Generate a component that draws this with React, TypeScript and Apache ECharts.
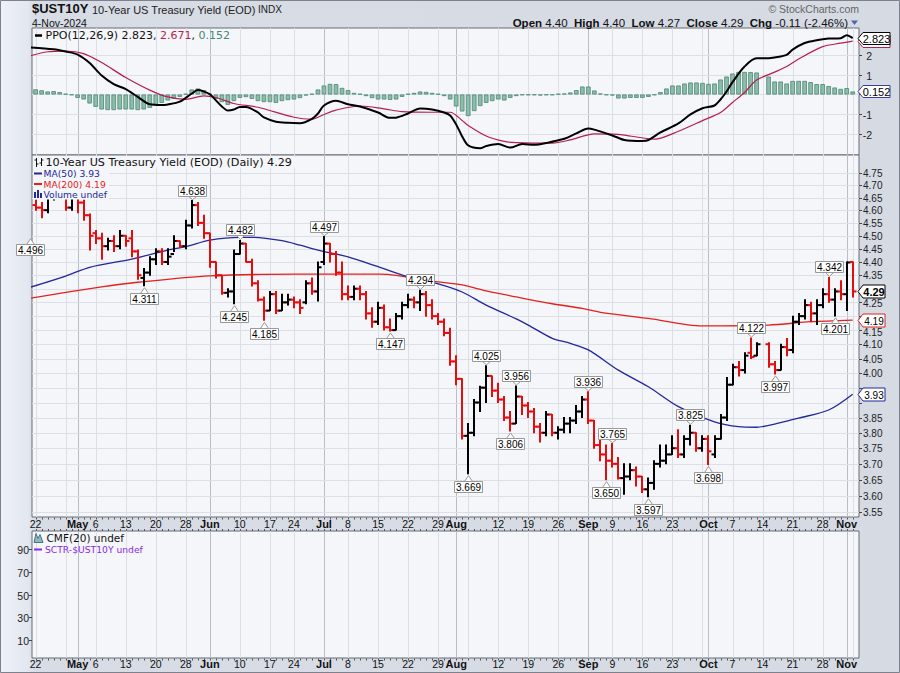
import React, { useEffect, useRef } from "react";
import * as echarts from "echarts";

// ---------------- DATA ----------------
const priorClose = 4.62; // Apr 19 close (prior bar)
const opens = [4.62,4.61,4.60,4.65,4.70,4.67,4.61,4.68,4.63,4.58,
 4.51,4.49,4.46,4.48,4.46,4.50,4.49,4.44,4.34,4.36,
 4.41,4.44,4.40,4.43,4.48,4.46,4.54,4.62,4.55,4.51,
 4.40,4.35,4.285,4.29,4.43,4.47,4.40,4.32,4.26,4.22,
 4.28,4.22,4.25,4.26,4.25,4.25,4.32,4.29,4.40,4.47,
 4.43,4.36,4.28,4.27,4.30,4.28,4.21,4.18,4.23,4.16,
 4.15,4.20,4.24,4.26,4.25,4.28,4.24,4.20,4.18,4.14,
 4.04,3.98,3.79,3.80,3.90,3.95,3.99,3.94,3.91,3.85,
 3.83,3.92,3.89,3.87,3.82,3.80,3.86,3.80,3.81,3.83,
 3.84,3.87,3.91,3.84,3.76,3.73,3.71,3.70,3.655,3.66,
 3.68,3.66,3.62,3.64,3.70,3.71,3.73,3.75,3.73,3.78,
 3.80,3.75,3.78,3.73,3.78,3.85,3.96,4.02,4.01,4.07,
 4.06,null,4.10,4.03,4.01,4.09,4.08,4.18,4.20,4.24,
 4.21,4.24,4.28,4.26,4.29,4.28,4.40];
const highs = [4.64,4.63,4.66,4.73,4.72,4.67,4.69,4.70,4.64,4.585,
 4.52,4.51,4.49,4.50,4.52,4.50,4.52,4.445,4.375,4.42,
 4.45,4.45,4.45,4.50,4.48,4.56,4.638,4.63,4.58,4.51,
 4.40,4.35,4.30,4.445,4.482,4.47,4.41,4.33,4.27,4.29,
 4.29,4.28,4.28,4.27,4.26,4.33,4.34,4.40,4.497,4.47,
 4.44,4.40,4.31,4.31,4.31,4.29,4.23,4.25,4.24,4.19,
 4.21,4.25,4.28,4.27,4.294,4.29,4.26,4.21,4.19,4.157,
 4.06,3.98,3.83,3.91,3.955,4.025,3.99,3.965,3.92,3.87,
 3.956,3.92,3.90,3.88,3.83,3.87,3.86,3.82,3.85,3.85,
 3.89,3.92,3.936,3.84,3.78,3.76,3.765,3.72,3.70,3.70,
 3.69,3.66,3.655,3.71,3.76,3.76,3.79,3.81,3.79,3.825,
 3.80,3.79,3.79,3.79,3.86,3.985,4.03,4.04,4.07,4.122,
 4.105,null,4.105,4.04,4.10,4.12,4.20,4.21,4.26,4.25,
 4.26,4.30,4.342,4.30,4.33,4.40,4.40];
const lows = [4.60,4.57,4.59,4.64,4.65,4.60,4.60,4.59,4.56,4.445,
 4.47,4.41,4.445,4.44,4.45,4.46,4.42,4.335,4.311,4.35,
 4.39,4.39,4.39,4.44,4.455,4.45,4.53,4.54,4.49,4.38,
 4.34,4.28,4.27,4.245,4.43,4.40,4.31,4.255,4.185,4.22,
 4.21,4.22,4.24,4.23,4.21,4.245,4.28,4.255,4.39,4.40,
 4.35,4.26,4.26,4.26,4.26,4.19,4.16,4.17,4.15,4.147,
 4.15,4.19,4.23,4.23,4.22,4.20,4.19,4.17,4.13,4.027,
 3.96,3.78,3.669,3.79,3.87,3.90,3.92,3.90,3.84,3.806,
 3.83,3.86,3.85,3.80,3.77,3.79,3.79,3.78,3.80,3.80,
 3.83,3.85,3.83,3.75,3.71,3.650,3.69,3.652,3.605,3.65,
 3.63,3.61,3.597,3.62,3.69,3.70,3.73,3.72,3.72,3.76,
 3.74,3.74,3.698,3.72,3.78,3.84,3.96,3.99,4.00,4.05,
 4.06,null,4.02,3.997,4.01,4.06,4.07,4.17,4.19,4.18,
 4.17,4.23,4.25,4.201,4.26,4.22,4.27];
const closes = [4.61,4.60,4.65,4.70,4.67,4.61,4.68,4.63,4.58,4.50,
 4.49,4.46,4.48,4.46,4.50,4.48,4.44,4.35,4.36,4.41,
 4.44,4.40,4.42,4.48,4.46,4.54,4.62,4.55,4.51,4.40,
 4.35,4.285,4.29,4.43,4.47,4.40,4.32,4.26,4.22,4.28,
 4.22,4.25,4.26,4.25,4.23,4.32,4.29,4.38,4.47,4.43,
 4.36,4.28,4.27,4.30,4.28,4.21,4.18,4.23,4.16,4.15,
 4.20,4.24,4.26,4.25,4.28,4.24,4.20,4.18,4.14,4.04,
 3.98,3.79,3.80,3.90,3.95,3.99,3.94,3.91,3.85,3.83,
 3.92,3.89,3.87,3.82,3.80,3.86,3.80,3.81,3.83,3.84,
 3.87,3.91,3.84,3.76,3.73,3.71,3.70,3.655,3.66,3.68,
 3.66,3.62,3.64,3.70,3.71,3.73,3.75,3.73,3.78,3.80,
 3.75,3.78,3.74,3.78,3.85,3.96,4.02,4.01,4.06,4.055,
 4.10,null,4.03,4.01,4.09,4.08,4.18,4.20,4.24,4.21,
 4.24,4.28,4.26,4.29,4.28,4.398,4.29];

// swing labels (bar index, value, 1 = high / 0 = low)
const annotIdx = [-1, 26, 18, 34, 33, 38, 48, 59, 64, 75, 72, 80, 79, 92, 96, 95, 102, 109, 112, 119, 123, 132, 133];
const annotVal = [4.496, 4.638, 4.311, 4.482, 4.245, 4.185, 4.497, 4.147, 4.294, 4.025, 3.669, 3.956, 3.806, 3.936, 3.765, 3.650, 3.597, 3.825, 3.698, 4.122, 3.997, 4.342, 4.201];
const annotHigh = [0, 1, 0, 1, 0, 0, 1, 0, 1, 1, 0, 1, 0, 1, 1, 0, 0, 1, 0, 1, 0, 1, 0];

// moving averages (sampled at bar indices)
const ma50Idx = [-1, 5, 9, 16, 22, 25, 29, 34, 36, 41, 44, 47, 52, 57, 62, 67, 71, 75, 80, 82, 86, 89, 92, 97, 102, 107, 113, 117, 120, 124, 127, 132, 136];
const ma50Val = [4.305, 4.347, 4.38, 4.411, 4.445, 4.458, 4.483, 4.494, 4.494, 4.481, 4.464, 4.445, 4.419, 4.382, 4.344, 4.318, 4.288, 4.240, 4.190, 4.168, 4.121, 4.103, 4.080, 4.010, 3.953, 3.886, 3.836, 3.820, 3.818, 3.833, 3.848, 3.875, 3.928];
const ma200Idx = [-1, 11, 17, 29, 44, 57, 60, 66, 71, 75, 80, 86, 91, 94, 102, 111, 122, 129, 136];
const ma200Val = [4.265, 4.307, 4.324, 4.348, 4.354, 4.354, 4.350, 4.328, 4.314, 4.292, 4.270, 4.245, 4.228, 4.214, 4.192, 4.165, 4.168, 4.180, 4.186];

// PPO(12,26,9)
const ppoIdx = [-1, 3, 5, 7, 9, 11, 13, 15, 17, 19, 21, 22, 24, 26, 27, 28, 29, 31, 32, 33, 34, 35, 37, 38, 40, 42, 44, 46, 47, 48, 50, 52, 54, 57, 59, 60, 62, 64, 66, 68, 69, 70, 71, 72, 74, 75, 77, 79, 81, 83, 85, 88, 90, 92, 93, 96, 98, 101, 102, 104, 107, 109, 111, 113, 114, 115, 116, 118, 120, 122, 123, 125, 126, 128, 130, 132, 134, 135, 136];
const ppoVal = [2.36, 2.26, 2.15, 2.0, 1.58, 0.95, 0.52, 0.27, -0.12, -0.49, -0.53, -0.50, -0.36, 0.05, 0.22, 0.15, 0.01, -0.60, -0.80, -0.75, -0.62, -0.62, -0.90, -1.15, -1.36, -1.42, -1.44, -1.22, -0.95, -0.55, -0.31, -0.49, -0.60, -0.90, -1.17, -1.16, -0.95, -0.70, -0.75, -0.90, -1.05, -1.50, -2.10, -2.55, -2.69, -2.58, -2.48, -2.66, -2.48, -2.52, -2.43, -2.22, -1.95, -1.70, -1.76, -2.05, -2.28, -2.33, -2.28, -1.90, -1.45, -1.00, -0.69, -0.55, -0.25, 0.15, 0.62, 1.40, 1.81, 1.81, 1.85, 1.98, 2.25, 2.58, 2.72, 2.80, 2.82, 2.97, 2.823];
const sigIdx = [-1, 2, 5, 8, 11, 15, 19, 22, 25, 28, 30, 33, 37, 43, 46, 48, 50, 54, 58, 61, 66, 69, 71, 72, 75, 78, 80, 86, 89, 93, 96, 98, 103, 107, 111, 114, 116, 118, 120, 123, 125, 127, 131, 134, 136];
const sigVal = [1.92, 2.14, 2.175, 2.05, 1.60, 0.85, 0.22, -0.12, -0.24, -0.07, -0.15, -0.45, -0.64, -1.14, -1.24, -1.0, -0.78, -0.575, -0.72, -0.86, -0.89, -0.89, -1.30, -1.55, -2.08, -2.35, -2.41, -2.44, -2.275, -1.97, -1.98, -2.03, -2.24, -1.84, -1.31, -0.90, -0.40, 0.10, 0.72, 1.12, 1.40, 1.78, 2.40, 2.57, 2.671];
const histVal = [0.26, 0.21, 0.15, 0.17, 0.12, 0.03, -0.03, -0.17, -0.25, -0.45,
 -0.62, -0.75, -0.78, -0.78, -0.75, -0.75, -0.75, -0.78, -0.75, -0.67,
 -0.55, -0.42, -0.30, -0.22, -0.12, 0.03, 0.25, 0.30, 0.22, 0.03,
 -0.22, -0.38, -0.52, -0.33, -0.17, -0.13, -0.22, -0.33, -0.38, -0.38,
 -0.42, -0.33, -0.28, -0.25, -0.18, -0.05, 0.03, 0.25, 0.45, 0.53,
 0.52, 0.33, 0.22, 0.08, 0.03, -0.08, -0.18, -0.25, -0.25, -0.27,
 -0.25, -0.12, 0.03, 0.08, 0.15, 0.13, 0.08, 0.03, -0.08, -0.25,
 -0.60, -0.85, -1.08, -0.83, -0.58, -0.42, -0.33, -0.25, -0.30, -0.17,
 -0.08, -0.03, -0.03, -0.03, -0.05, -0.03, -0.03, 0.03, 0.05, 0.10,
 0.22, 0.40, 0.40, 0.20, 0.05, -0.03, -0.05, -0.20, -0.20, -0.17,
 -0.17, -0.17, -0.12, -0.03, 0.12, 0.30, 0.45, 0.45, 0.55, 0.60,
 0.60, 0.58, 0.53, 0.55, 0.75, 0.90, 1.05, 1.13, 1.13, 1.12,
 1.10, null, 0.90, 0.65, 0.65, 0.55, 0.68, 0.68, 0.68, 0.62,
 0.52, 0.52, 0.42, 0.35, 0.28, 0.32, 0.152];

// axes
const priceTicks = [3.55, 3.60, 3.65, 3.70, 3.75, 3.80, 3.85, 3.90, 3.95, 4.00, 4.05, 4.10, 4.15, 4.20, 4.25, 4.30, 4.35, 4.40, 4.45, 4.50, 4.55, 4.60, 4.65, 4.70, 4.75];
const ppoTicks = [-2, -1, 0, 1, 2];
const lowerTicks = [10, 30, 50, 70, 90];
const weekIdx = [0, 5, 10, 15, 20, 25, 29, 34, 39, 43, 48, 52, 57, 62, 67, 72, 77, 82, 87, 92, 96, 101, 106, 111, 116, 121, 126, 131, 136];
const monthIdx = [7, 29, 48, 70, 92, 112, 135];
const xLabelIdx = [0, 7, 10, 15, 20, 25, 29, 34, 39, 43, 48, 52, 57, 62, 67, 70, 77, 82, 87, 92, 96, 101, 106, 112, 116, 121, 126, 131, 135];
const xLabelText = ["22", "May", "6", "13", "20", "28", "Jun", "10", "17", "24", "Jul", "8", "15", "22", "29", "Aug", "12", "19", "26", "Sep", "9", "16", "23", "Oct", "7", "14", "21", "28", "Nov"];

// ---------------- STYLE ----------------
const PLOT_BG = "#f5f6fa";
const GRID_C = "#dcdfe6";
const MONTH_C = "#b9bdc8";
const BORDER_C = "#666a74";
const XMIN = -0.6, XMAX = 137.05;
const FS = "Liberation Sans";
const FV = "DejaVu Sans";

function txt(text: string, x: number, y: number, o: any = {}) {
  return {
    type: "text",
    style: {
      text, x, y,
      fill: o.fill || "#000",
      fontSize: o.size || 10.5,
      fontFamily: o.family || FS,
      fontWeight: o.weight || "normal",
      align: o.align || "left", textAlign: o.align || "left",
      verticalAlign: o.va || "middle", textVerticalAlign: o.va || "middle",
    },
  };
}

function buildOption() {
  const N = closes.length;
  const ohlc: any[] = [];
  let prev = priorClose;
  for (let i = 0; i < N; i++) {
    if (closes[i] == null) continue;
    ohlc.push([i, opens[i], highs[i], lows[i], closes[i], prev]);
    prev = closes[i] as number;
  }
  const vlines: number[][] = weekIdx.filter((w) => monthIdx.indexOf(w) < 0).map((w) => [w, 0]).concat(monthIdx.map((m) => [m, 1]));
  const days = closes.map((_, i) => i);
  const hist: any[] = [];
  histVal.forEach((v, i) => { if (v != null) hist.push([i, v]); });
  const lastClose = closes[N - 1] as number;
  const lastMa50 = ma50Val[ma50Val.length - 1];
  const lastMa200 = ma200Val[ma200Val.length - 1];
  const lastPpo = ppoVal[ppoVal.length - 1];
  const lastSig = sigVal[sigVal.length - 1];
  const lastHist = histVal[histVal.length - 1] as number;
  const mainTagVals = [lastClose, lastMa50, lastMa200];
  const ppoTagVals = [lastPpo, lastHist];

  const vgrid = (gi: number, yv: number) => ({
    type: "custom", xAxisIndex: gi, yAxisIndex: gi, silent: true, z: 1, clip: true,
    data: vlines.map((d) => [d[0], yv, d[1]]), encode: { x: 0, y: 1 },
    renderItem: (params: any, api: any) => {
      const cs = params.coordSys;
      const x = Math.round(api.coord([api.value(0), yv])[0]) + 0.5;
      return { type: "line", shape: { x1: x, y1: cs.y, x2: x, y2: cs.y + cs.height }, style: { stroke: api.value(2) ? MONTH_C : GRID_C, lineWidth: 1 } };
    },
  });

  const dayTicks = (gi: number, yv: number, where: string) => ({
    type: "custom", xAxisIndex: gi, yAxisIndex: gi, silent: true, z: 2,
    data: days.map((d) => [d, yv]), encode: { x: 0, y: 1 },
    renderItem: (params: any, api: any) => {
      const cs = params.coordSys;
      const x = Math.round(api.coord([api.value(0), yv])[0]) + 0.5;
      const yb = cs.y + cs.height;
      const children: any[] = [];
      if (where.indexOf("b") >= 0) children.push({ type: "line", shape: { x1: x, y1: yb + 0.5, x2: x, y2: yb + 2.5 }, style: { stroke: "#555", lineWidth: 1 } });
      if (where.indexOf("t") >= 0) children.push({ type: "line", shape: { x1: x, y1: cs.y - 2, x2: x, y2: cs.y }, style: { stroke: "#555", lineWidth: 1 } });
      return { type: "group", children };
    },
  });

  const xLabels = (gi: number, yv: number, dy: number) => ({
    type: "custom", xAxisIndex: gi, yAxisIndex: gi, silent: true, z: 2,
    data: xLabelIdx.map((d, k) => [d, yv, k]), encode: { x: 0, y: 1 },
    renderItem: (params: any, api: any) => {
      const cs = params.coordSys;
      const k = api.value(2);
      const t = xLabelText[k];
      const bold = /[A-Za-z]/.test(t);
      const x = api.coord([api.value(0), yv])[0];
      return txt(t, x, cs.y + cs.height + dy, { align: "center", weight: bold ? "bold" : "normal", size: bold ? 11 : 10.5, fill: "#111" });
    },
  });

  const series: any[] = [
    vgrid(0, 0), vgrid(1, 4.0), vgrid(2, 50),
    // main horizontal grid + right labels (labels under a value tag are hidden, near ones nudged)
    {
      type: "custom", xAxisIndex: 1, yAxisIndex: 1, silent: true, z: 1,
      data: priceTicks.map((v) => [0, v]), encode: { x: 0, y: 1 },
      renderItem: (params: any, api: any) => {
        const cs = params.coordSys; const v = api.value(1);
        const y = Math.round(api.coord([0, v])[1]) + 0.5; const r = cs.x + cs.width;
        let hidden = false; let ly = y;
        mainTagVals.forEach((t) => {
          const ty = api.coord([0, t])[1]; const d = y - ty;
          if (Math.abs(d) < 9.5) hidden = true;
          else if (Math.abs(d) < 12.5) ly = y + Math.sign(d) * (12.5 - Math.abs(d));
        });
        const ch: any[] = [
          { type: "line", shape: { x1: cs.x, y1: y, x2: r, y2: y }, style: { stroke: GRID_C, lineWidth: 1 } },
          { type: "line", shape: { x1: r, y1: y, x2: r + 3, y2: y }, style: { stroke: "#444", lineWidth: 1 } },
        ];
        if (!hidden) ch.push(txt(v.toFixed(2), r + 4, ly, { size: 10, fill: "#222" }));
        return { type: "group", children: ch };
      },
    },
    // ppo horizontal grid + labels
    {
      type: "custom", xAxisIndex: 0, yAxisIndex: 0, silent: true, z: 1,
      data: ppoTicks.map((v) => [0, v]), encode: { x: 0, y: 1 },
      renderItem: (params: any, api: any) => {
        const cs = params.coordSys; const v = api.value(1);
        const y = Math.round(api.coord([0, v])[1]) + 0.5; const r = cs.x + cs.width;
        const hidden = ppoTagVals.some((t) => Math.abs(api.coord([0, t])[1] - y) < 9);
        const ch: any[] = [
          { type: "line", shape: { x1: cs.x, y1: y, x2: r, y2: y }, style: { stroke: GRID_C, lineWidth: 1 } },
          { type: "line", shape: { x1: r, y1: y, x2: r + 3, y2: y }, style: { stroke: "#444", lineWidth: 1 } },
        ];
        if (!hidden) ch.push(txt(String(v), r + 13, y, { size: 10.5, fill: "#222", align: "right" }));
        return { type: "group", children: ch };
      },
    },
    // lower panel left labels
    {
      type: "custom", xAxisIndex: 2, yAxisIndex: 2, silent: true, z: 1,
      data: lowerTicks.map((v) => [0, v]), encode: { x: 0, y: 1 },
      renderItem: (params: any, api: any) => {
        const cs = params.coordSys; const v = api.value(1);
        const y = Math.round(api.coord([0, v])[1]) + 0.5;
        return { type: "group", children: [
          { type: "line", shape: { x1: cs.x - 3, y1: y, x2: cs.x, y2: y }, style: { stroke: "#444", lineWidth: 1 } },
          txt(String(v), cs.x - 3, y, { size: 10.5, fill: "#222", align: "right" }),
        ] };
      },
    },
    dayTicks(1, 4.0, "b"), dayTicks(2, 50, "tb"),
    xLabels(1, 4.0, 7), xLabels(2, 50, 6),
    // PPO histogram
    {
      type: "bar", xAxisIndex: 0, yAxisIndex: 0, data: hist, barWidth: 4.6, silent: true, z: 2,
      itemStyle: { color: "#8ebcab", borderColor: "#4a8872", borderWidth: 0.8 },
    },
    { type: "line", xAxisIndex: 0, yAxisIndex: 0, data: sigIdx.map((x, k) => [x, sigVal[k]]), showSymbol: false, symbol: "none", smooth: 0.3, silent: true, z: 3, lineStyle: { color: "#b51e4e", width: 1.2 } },
    { type: "line", xAxisIndex: 0, yAxisIndex: 0, data: ppoIdx.map((x, k) => [x, ppoVal[k]]), showSymbol: false, symbol: "none", smooth: 0.3, silent: true, z: 4, lineStyle: { color: "#000", width: 2 } },
    // MAs
    { type: "line", xAxisIndex: 1, yAxisIndex: 1, data: ma200Idx.map((x, k) => [x, ma200Val[k]]), showSymbol: false, symbol: "none", smooth: 0.3, silent: true, z: 3, lineStyle: { color: "#e3201e", width: 1.3 } },
    { type: "line", xAxisIndex: 1, yAxisIndex: 1, data: ma50Idx.map((x, k) => [x, ma50Val[k]]), showSymbol: false, symbol: "none", smooth: 0.3, silent: true, z: 3, lineStyle: { color: "#22279a", width: 1.3 } },
    // OHLC bars
    {
      type: "custom", xAxisIndex: 1, yAxisIndex: 1, silent: true, z: 4, clip: true,
      data: ohlc, encode: { x: 0, y: [2, 3] },
      renderItem: (params: any, api: any) => {
        const i = api.value(0);
        const pO = api.coord([i, api.value(1)]); const pH = api.coord([i, api.value(2)]);
        const pL = api.coord([i, api.value(3)]); const pC = api.coord([i, api.value(4)]);
        const color = api.value(4) < api.value(5) ? "#e30d0d" : "#000000";
        const x = Math.round(pH[0]);
        const st = { stroke: color, lineWidth: 2 };
        return { type: "group", children: [
          { type: "line", shape: { x1: x, y1: pH[1] - 0.5, x2: x, y2: pL[1] + 0.5 }, style: st },
          { type: "line", shape: { x1: x - 3.5, y1: pO[1], x2: x, y2: pO[1] }, style: st },
          { type: "line", shape: { x1: x, y1: pC[1], x2: x + 3.5, y2: pC[1] }, style: st },
        ] };
      },
    },
    // swing labels
    {
      type: "custom", xAxisIndex: 1, yAxisIndex: 1, silent: true, z: 5, clip: false,
      data: annotIdx.map((x, k) => [x, annotVal[k], annotHigh[k]]), encode: { x: 0, y: 1 },
      renderItem: (params: any, api: any) => {
        const p = api.coord([api.value(0), api.value(1)]);
        const hi = api.value(2) === 1;
        const x = Math.round(p[0]) + 0.5; const w = 28, h = 11;
        let top: number, chev: number[][];
        if (hi) {
          const bb = Math.round(p[1] - 5) + 0.5; top = bb - h;
          chev = [[x - 4, bb], [x, p[1] - 1], [x + 4, bb]];
        } else {
          top = Math.round(p[1] + 7.5) + 0.5;
          chev = [[x - 4, top], [x, p[1] + 2], [x + 4, top]];
        }
        return { type: "group", children: [
          { type: "polygon", shape: { points: chev }, style: { fill: "#fff", stroke: "#999", lineWidth: 1 } },
          { type: "rect", shape: { x: x - w / 2, y: top, width: w, height: h }, style: { fill: "#fff", stroke: "#999", lineWidth: 1 } },
          txt(api.value(1).toFixed(3), x, top + h / 2 + 0.5, { align: "center", size: 10, fill: "#000" }),
        ] };
      },
    },
    // main value tags
    {
      type: "custom", xAxisIndex: 1, yAxisIndex: 1, silent: true, z: 6, clip: false,
      data: [[136, lastMa200, 0], [136, lastMa50, 1], [136, lastClose, 2]], encode: { x: 0, y: 1 },
      renderItem: (params: any, api: any) => {
        const cs = params.coordSys; const v = api.value(1); const k = api.value(2);
        const y = Math.round(api.coord([136, v])[1]) + 0.5; const x0 = cs.x + cs.width - 1;
        const col = ["#e3201e", "#22279a", "#000"][k]; const w = 22, hh = 6.5;
        return { type: "group", children: [
          { type: "polygon", shape: { points: [[x0, y], [x0 + 5, y - hh], [x0 + 5 + w, y - hh], [x0 + 5 + w, y + hh], [x0 + 5, y + hh]] }, style: { fill: "#fff", stroke: col, lineWidth: 1 } },
          txt(v.toFixed(2), x0 + 5 + w / 2, y + 0.5, { align: "center", size: k === 2 ? 11 : 10, weight: k === 2 ? "bold" : "normal", fill: "#000" }),
        ] };
      },
    },
    // ppo value tags (signal tag sits hidden under the PPO tag)
    {
      type: "custom", xAxisIndex: 0, yAxisIndex: 0, silent: true, z: 6, clip: false,
      data: [[136, lastSig, 0], [136, lastPpo, 1], [136, lastHist, 2]], encode: { x: 0, y: 1 },
      renderItem: (params: any, api: any) => {
        const cs = params.coordSys; const v = api.value(1); const k = api.value(2);
        const y = Math.round(api.coord([136, v])[1]) + 0.5; const x0 = cs.x + cs.width - 1;
        const col = ["#b51e4e", "#000", "#3a3f9a"][k]; const w = 27, hh = 6;
        const ch: any[] = [
          { type: "polygon", shape: { points: [[x0, y], [x0 + 5, y - hh], [x0 + 5 + w, y - hh], [x0 + 5 + w, y + hh], [x0 + 5, y + hh]] }, style: { fill: "#fff", stroke: col, lineWidth: 1 } },
        ];
        if (k !== 0) ch.push(txt(v.toFixed(3), x0 + 5 + w / 2, y + 0.5, { align: "center", size: 11, fill: "#000" }));
        return { type: "group", children: ch };
      },
    },
  ];

  const legendBg = { type: "rect", z: 50, shape: { x: 33, y: 156.5, width: 268, height: 11 }, style: { fill: PLOT_BG } };
  const legendBg2 = { type: "rect", z: 50, shape: { x: 33, y: 167.5, width: 76, height: 32 }, style: { fill: PLOT_BG } };
  const gtext = (text: string, x: number, y: number, o: any = {}) => ({ ...txt(text, x, y, o), z: 60 });

  const graphic: any[] = [
    // header
    gtext("$UST10Y", 32, 15, { size: 13, weight: "bold", va: "bottom", fill: "#111" }),
    gtext("10-Year US Treasury Yield (EOD)", 92, 15, { size: 11, va: "bottom", fill: "#222" }),
    gtext("INDX", 258, 14.5, { size: 10, va: "bottom", fill: "#222" }),
    gtext("4-Nov-2024", 32, 22.5, { size: 10.5, fill: "#111" }),
    gtext("\u00A9 StockCharts.com", 859, 9, { size: 10.5, align: "right", fill: "#666" }),
    {
      type: "text", z: 60,
      style: {
        text: "{b|Open} 4.40  {b|High} 4.40  {b|Low} 4.27  {b|Close} 4.29  {b|Chg} -0.11 (-2.46%)",
        x: 848, y: 22.5, align: "right", textAlign: "right", verticalAlign: "middle", textVerticalAlign: "middle",
        fontSize: 11.5, fontFamily: FS, fill: "#111",
        rich: { b: { fontWeight: "bold", fontSize: 11.5, fontFamily: FS, fill: "#111" } },
      },
    },
    { type: "polygon", z: 60, shape: { points: [[851, 20.5], [858, 20.5], [854.5, 25]] }, style: { fill: "#4a67b0" } },
    // PPO legend
    { type: "line", z: 60, shape: { x1: 35, y1: 35.5, x2: 42, y2: 35.5 }, style: { stroke: "#000", lineWidth: 2.5 } },
    {
      type: "text", z: 60,
      style: {
        text: "{a|PPO(12,26,9) 2.823, }{r|2.671}{a|, }{g|0.152}",
        x: 45.5, y: 35.5, verticalAlign: "middle", textVerticalAlign: "middle", fontSize: 11, fontFamily: FV,
        rich: { a: { fontSize: 11, fontFamily: FV, fill: "#111" }, r: { fontSize: 11, fontFamily: FV, fill: "#b51e4e" }, g: { fontSize: 11, fontFamily: FV, fill: "#3f8a72" } },
      },
    },
    // main legend
    legendBg, legendBg2,
    { type: "line", z: 60, shape: { x1: 36.5, y1: 158, x2: 36.5, y2: 167 }, style: { stroke: "#111", lineWidth: 1 } },
    { type: "line", z: 60, shape: { x1: 34.5, y1: 160, x2: 36.5, y2: 160 }, style: { stroke: "#111", lineWidth: 1 } },
    { type: "line", z: 60, shape: { x1: 36.5, y1: 164, x2: 38.5, y2: 164 }, style: { stroke: "#111", lineWidth: 1 } },
    { type: "line", z: 60, shape: { x1: 41.5, y1: 158, x2: 41.5, y2: 166 }, style: { stroke: "#111", lineWidth: 1 } },
    { type: "line", z: 60, shape: { x1: 39.5, y1: 163, x2: 41.5, y2: 163 }, style: { stroke: "#111", lineWidth: 1 } },
    { type: "line", z: 60, shape: { x1: 41.5, y1: 160, x2: 43.5, y2: 160 }, style: { stroke: "#111", lineWidth: 1 } },
    gtext("10-Year US Treasury Yield (EOD) (Daily) 4.29", 45.5, 162.5, { family: FV, size: 11.2, fill: "#111" }),
    { type: "line", z: 60, shape: { x1: 34, y1: 173.5, x2: 42, y2: 173.5 }, style: { stroke: "#22279a", lineWidth: 2 } },
    gtext("MA(50) 3.93", 43.5, 173.5, { family: FV, size: 9.2, fill: "#22279a" }),
    { type: "line", z: 60, shape: { x1: 34, y1: 184, x2: 42, y2: 184 }, style: { stroke: "#e3201e", lineWidth: 2 } },
    gtext("MA(200) 4.19", 43.5, 184, { family: FV, size: 9.2, fill: "#e3201e" }),
    { type: "rect", z: 60, shape: { x: 34, y: 192, width: 2, height: 6 }, style: { fill: "#22279a" } },
    { type: "rect", z: 60, shape: { x: 37, y: 190, width: 2, height: 8 }, style: { fill: "#22279a" } },
    { type: "rect", z: 60, shape: { x: 40, y: 193, width: 2, height: 5 }, style: { fill: "#22279a" } },
    gtext("Volume undef", 43.5, 194.5, { family: FV, size: 9.2, fill: "#22279a" }),
    // lower legend
    { type: "polygon", z: 60, shape: { points: [[34, 542.5], [36, 533.5], [38, 538.5], [40, 534.5], [43, 542.5]] }, style: { fill: "#8ebcab", stroke: "#4a6f9a", lineWidth: 1 } },
    gtext("CMF(20) undef", 46.5, 537.8, { family: FV, size: 10.5, fill: "#111" }),
    { type: "line", z: 60, shape: { x1: 34, y1: 549.5, x2: 42, y2: 549.5 }, style: { stroke: "#8a2be2", lineWidth: 2 } },
    gtext("SCTR-$UST10Y undef", 45, 549.5, { family: FV, size: 9.2, fill: "#8a2be2" }),
    // outer border
    { type: "rect", z: 100, shape: { x: 0.5, y: 0.5, width: 899, height: 672 }, style: { fill: "none", stroke: "#7d818b", lineWidth: 1 } },
  ];

  const gridBase = { left: 32, right: 41, show: true, backgroundColor: PLOT_BG, borderColor: BORDER_C, borderWidth: 1 };
  return {
    animation: false,
    grid: [
      { ...gridBase, top: 28, height: 127 },
      { ...gridBase, top: 155, height: 362 },
      { ...gridBase, top: 531, height: 127 },
    ],
    xAxis: [0, 1, 2].map((g) => ({ type: "value", gridIndex: g, min: XMIN, max: XMAX, show: false })),
    yAxis: [
      { type: "value", gridIndex: 0, min: -3.03, max: 3.33, show: false },
      { type: "log", logBase: 10, gridIndex: 1, min: 3.535, max: 4.823, show: false },
      { type: "value", gridIndex: 2, min: -5.8, max: 106.2, show: false },
    ],
    series,
    graphic,
  };
}

export default function App() {
  const ref = useRef<HTMLDivElement>(null);
  useEffect(() => {
    const chart = echarts.init(ref.current as HTMLDivElement, null, { renderer: "svg" });
    chart.setOption(buildOption() as any);
    return () => chart.dispose();
  }, []);
  return (
    <div
      ref={ref}
      style={{
        position: "fixed", left: 0, top: 0, width: 900, height: 673,
        background: "linear-gradient(to right, #eef1f8 0px, #e3e7ef 28px, #d7dce5 34px, #d5dae3 100%)",
      }}
    />
  );
}
